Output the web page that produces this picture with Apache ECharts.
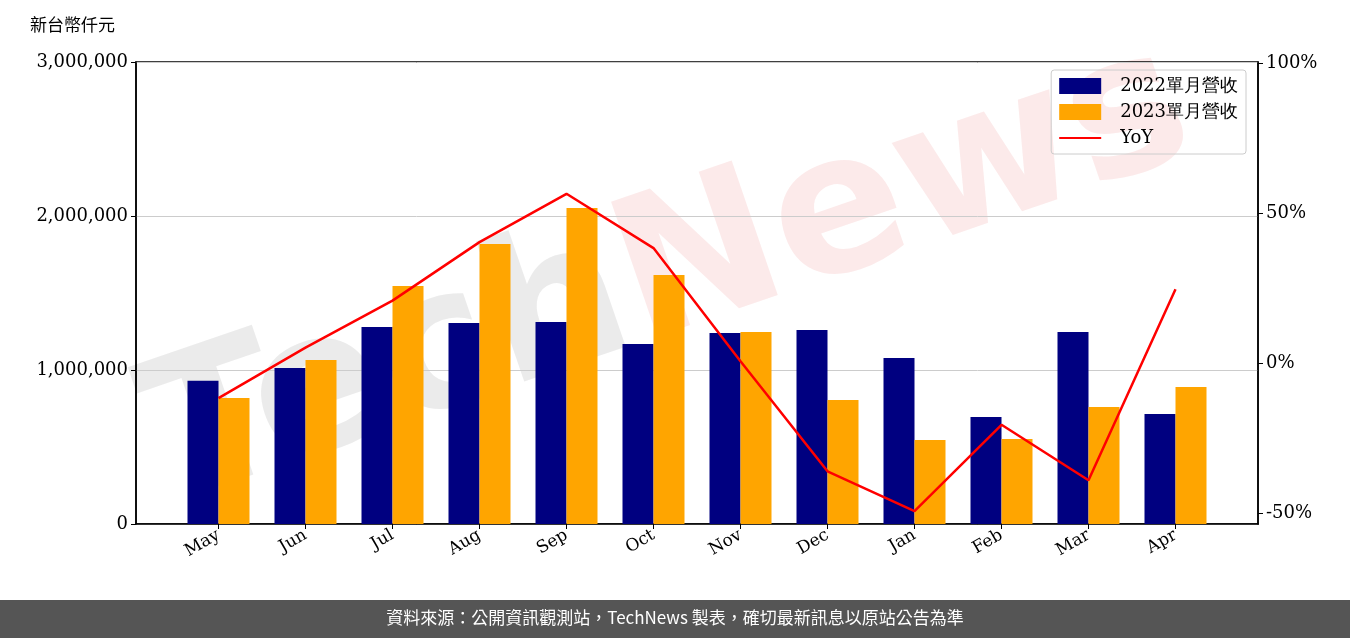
<!DOCTYPE html>
<html><head><meta charset="utf-8">
<script src="https://cdn.jsdelivr.net/npm/echarts@6/dist/echarts.min.js"></script>
<style>body{margin:0}#c{width:1350px;height:638px}</style></head>
<body><div id="c"></div>
<script>
const categories=['May','Jun','Jul','Aug','Sep','Oct','Nov','Dec','Jan','Feb','Mar','Apr'];
const rev2022=[930000,1013000,1279000,1305000,1312000,1169000,1240000,1260000,1078000,695000,1247000,714000];
const rev2023=[818000,1065000,1545000,1818000,2052000,1617000,1247000,805000,545000,552000,760000,890000];
const yoy=[-11.7,5.1,20.8,40.3,56.4,38.3,0.6,-36.1,-49.4,-20.6,-39.1,24.6];
const rightTicks=[-50,0,50,100];
const serif='"DejaVu Serif", serif';
const black={color:'#000',width:1.5};
const chart=echarts.init(document.getElementById('c'));
chart.setOption({
  animation:false,
  graphic:[
    {type:'text',left:125,top:10,rotation:0.33,z:-1,silent:true,style:{
      rich:{a:{fill:'rgba(190,190,190,0.3)'},b:{fill:'rgba(240,150,150,0.2)'}},
      text:'{a|Tech}{b|News}',fontSize:195,fontWeight:'bold',fontFamily:'DejaVu Sans'}},
    {type:'rect',left:0,top:600,shape:{width:1350,height:38},style:{fill:'#555'}},
    {type:'text',left:'center',top:609,style:{text:'資料來源：公開資訊觀測站，TechNews 製表，確切最新訊息以原站公告為準',fill:'#fff',fontSize:17,fontFamily:'Noto Sans CJK TC'}},
    {type:'text',left:30,top:16,style:{text:'新台幣仟元',fill:'#000',fontSize:17,fontFamily:'Noto Sans CJK TC'}}
  ],
  grid:[
    {left:136,right:92,top:62,bottom:114,show:true,borderColor:'#000',borderWidth:1.5,backgroundColor:'transparent'},
    {left:175,right:131,top:62,bottom:114}
  ],
  legend:{right:104,top:70,orient:'vertical',itemGap:8,itemWidth:42,itemHeight:16,borderColor:'#ccc',borderWidth:1,borderRadius:3,padding:[7,8],
    textStyle:{fontSize:18,fontFamily:serif,color:'#000',padding:[0,0,0,14]},
    data:[{name:'2022單月營收',icon:'rect'},{name:'2023單月營收',icon:'rect'},{name:'YoY',icon:'path://M0,7L42,7L42,9L0,9Z'}]},
  xAxis:[
    {type:'category',gridIndex:0,data:categories,axisLine:{lineStyle:black},axisTick:{show:false},axisLabel:{show:false}},
    {type:'category',gridIndex:1,data:categories,axisLine:{show:false},
     axisTick:{show:true,alignWithLabel:true,length:5,lineStyle:{color:'#000'}},
     axisLabel:{rotate:30,fontSize:17,fontFamily:serif,color:'#000',margin:10}}
  ],
  yAxis:[
    {type:'value',gridIndex:0,min:0,max:3000000,interval:1000000,
     axisLine:{show:true,lineStyle:black},axisTick:{show:true,length:5,lineStyle:{color:'#000'}},
     splitLine:{lineStyle:{color:'#ccc'}},
     axisLabel:{fontSize:18,fontFamily:serif,color:'#000',formatter:v=>v.toLocaleString('en-US')}},
    {type:'value',gridIndex:0,min:-53.67,max:100.33,position:'right',
     axisLine:{show:true,lineStyle:black},
     axisTick:{show:true,length:5,customValues:rightTicks,lineStyle:{color:'#000'}},
     splitLine:{show:false},
     axisLabel:{fontSize:18,fontFamily:serif,color:'#000',customValues:rightTicks,formatter:v=>v+'%'}},
    {type:'value',gridIndex:1,min:0,max:3000000,show:false,splitLine:{show:false}},
    {type:'value',gridIndex:1,min:-53.67,max:100.33,show:false,splitLine:{show:false}}
  ],
  series:[
    {name:'2022單月營收',type:'bar',xAxisIndex:1,yAxisIndex:2,data:rev2022,barWidth:31,barGap:'0%',itemStyle:{color:'#000080'},z:2},
    {name:'2023單月營收',type:'bar',xAxisIndex:1,yAxisIndex:2,data:rev2023,barWidth:31,itemStyle:{color:'#FFA500'},z:2},
    {name:'YoY',type:'line',xAxisIndex:1,yAxisIndex:3,data:yoy,symbol:'none',lineStyle:{color:'red',width:2.5},itemStyle:{color:'red'},z:3}
  ]
});
</script></body></html>
